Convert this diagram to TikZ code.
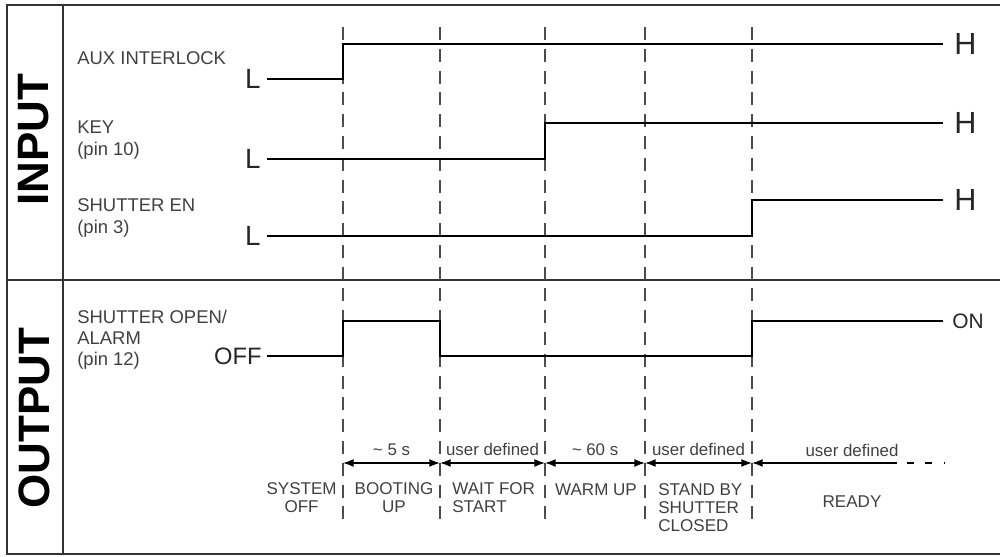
\documentclass[tikz,border=0pt]{standalone}
\usepackage{fontspec}
\setmainfont{Liberation Sans}
\usetikzlibrary{arrows.meta}

\begin{document}
\begin{tikzpicture}[x=0.2mm, y=-0.2mm,
  frame/.style={black!80, line width=1.1pt},
  grid/.style={black!70, line width=0.8pt, dash pattern=on 7.4pt off 5pt},
  signal/.style={line width=1.5pt},
  side/.style={font=\fontsize{25}{25}\selectfont\bfseries, rotate=90, inner sep=0},
  lbl/.style={font=\fontsize{10.5}{12}\selectfont, text=black!75, inner sep=0, align=left, anchor=west},
  lowlvl/.style={font=\fontsize{15.8}{16}\selectfont, text=black!85, inner sep=0, anchor=east},
  highlvl/.style={font=\fontsize{17.4}{18}\selectfont, text=black!85, inner sep=0, anchor=west},
  span/.style={line width=0.8pt, {Latex[length=6pt,width=4.5pt]}-{Latex[length=6pt,width=4.5pt]}},
  dur/.style={font=\fontsize{9.6}{10}\selectfont, text=black!75, inner sep=0},
  phase/.style={font=\fontsize{9.7}{10.2}\selectfont, text=black!75, inner sep=0, align=center}]
\useasboundingbox (0,0) rectangle (1000,557);

% frame
\draw [frame] (1000,5) -- (7,5) -- (7,554) -- (1000,554);
\draw [frame] (63,5) -- (63,554);
\draw [frame] (7,280) -- (1000,280);
\node [side] (input) at (34,140) {INPUT};
\node [side] (output) at (34,418) {OUTPUT};

% phase borders
\foreach \x [count=\i] in {343,440,545,645,752}{
  \draw [grid] (\x,27) -- (\x,527);
  \coordinate (t\i) at (\x,463);
}

% inputs
\node [lbl] (aux) at (77,58) {AUX INTERLOCK};
\node [lowlvl] (auxL) at (261,79) {L};
\node [highlvl] (auxH) at (954,44) {H};
\draw [signal] (267,79) -- (343,79) -- (343,44) -- (943,44);

\node [lbl] (key) at (77,140) {KEY\\[1pt](pin 10)};
\node [lowlvl] (keyL) at (261,159) {L};
\node [highlvl] (keyH) at (954,123) {H};
\draw [signal] (267,159) -- (545,159) -- (545,123) -- (943,123);

\node [lbl] (en) at (77,218) {SHUTTER EN\\[1pt](pin 3)};
\node [lowlvl] (enL) at (261,236) {L};
\node [highlvl] (enH) at (954,200) {H};
\draw [signal] (267,236) -- (752,236) -- (752,200) -- (943,200);

% output
\node [lbl] (shut) at (77,340) {SHUTTER OPEN/\\ALARM\\(pin 12)};
\node [lowlvl, font=\fontsize{13.5}{14}\selectfont] (shutOff) at (262,356) {OFF};
\node [highlvl, font=\fontsize{11.9}{12}\selectfont] (shutOn) at (952,321) {ON};
\draw [signal] (267,356) -- (343,356) -- (343,321) -- (440,321) -- (440,356)
  -- (752,356) -- (752,321) -- (943,321);

% durations
\draw [span] (t1) -- (t2) node [dur, midway, yshift=7.5pt] (d1) {\textasciitilde{} 5 s};
\draw [span] (t2) -- (t3) node [dur, midway, yshift=7.5pt] (d2) {user defined};
\draw [span] (t3) -- (t4) node [dur, midway, yshift=7.5pt] (d3) {\textasciitilde{} 60 s};
\draw [span] (t4) -- (t5) node [dur, midway, yshift=7.5pt] (d4) {user defined};
\coordinate (te) at (897,463);
\draw [line width=0.8pt, {Latex[length=6pt,width=4.5pt]}-] (t5) -- (te);
\node [dur] (d5) at (852,450) {user defined};
\draw [line width=0.8pt, dash pattern=on 4pt off 6.5pt] (907,463) -- (945,463);

% phases
\node [phase, anchor=east] (sysoff) at (337,498) {SYSTEM\\OFF};
\node [phase] (boot) at (394,498) {BOOTING\\UP};
\node [phase, anchor=west, align=left] (wait) at (452,498) {WAIT FOR\\START};
\node [phase] (warm) at (596,490) {WARM UP};
\node [phase, anchor=west, align=left] (stand) at (658,508) {STAND BY\\SHUTTER\\CLOSED};
\node [phase] (ready) at (852,502) {READY};
\end{tikzpicture}
\end{document}
